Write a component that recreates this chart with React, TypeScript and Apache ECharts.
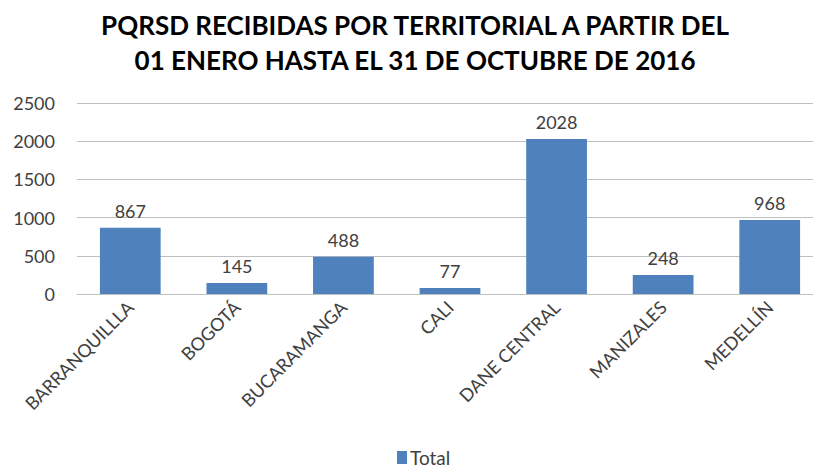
import React, { useEffect, useRef } from "react";
import * as echarts from "echarts";

const titleText = "PQRSD RECIBIDAS POR TERRITORIAL A PARTIR DEL\n01 ENERO HASTA EL 31 DE OCTUBRE DE 2016";
const categories = ["BARRANQUILLLA", "BOGOTÁ", "BUCARAMANGA", "CALI", "DANE CENTRAL", "MANIZALES", "MEDELLÍN"];
const totals = [867, 145, 488, 77, 2028, 248, 968];
const seriesName = "Total";

export default function App() {
  const ref = useRef<HTMLDivElement>(null);
  useEffect(() => {
    if (!ref.current) return;
    const chart = echarts.init(ref.current, null, { renderer: "svg" });
    const font = "Lato, 'Open Sans', sans-serif";
    chart.setOption({
      animation: false,
      backgroundColor: "#ffffff",
      title: {
        text: titleText,
        left: "center",
        top: 2,
        padding: [5, 5, 5, 19],
        textStyle: { fontFamily: font, fontSize: 26, fontWeight: "bold", color: "#000000", lineHeight: 35 },
      },
      legend: {
        bottom: 1,
        left: 397,
        itemWidth: 10,
        itemHeight: 13,
        icon: "rect",
        itemGap: 6,
        padding: 0,
        itemStyle: { color: "#4f81bd" },
        textStyle: { fontFamily: font, fontSize: 19, color: "#404040", padding: [0, 0, 0, -2] },
        data: [seriesName],
      },
      grid: { left: 77, right: 7, top: 103, bottom: 174 },
      xAxis: {
        type: "category",
        data: categories,
        axisTick: { show: false },
        axisLine: { lineStyle: { color: "#bfbfbf" } },
        axisLabel: { rotate: 45, interval: 0, fontFamily: font, fontSize: 18, color: "#404040", margin: 10 },
      },
      yAxis: {
        type: "value",
        min: 0,
        max: 2500,
        interval: 500,
        axisLine: { show: false },
        axisTick: { show: false },
        splitLine: { lineStyle: { color: "#bfbfbf" } },
        axisLabel: {
          fontFamily: font,
          fontSize: 18,
          color: "#404040",
          margin: 22,
          formatter: (v: number) => String(v),
        },
      },
      series: [
        {
          name: seriesName,
          type: "bar",
          data: totals,
          barCategoryGap: "43%",
          itemStyle: { color: "#4f81bd" },
          label: { show: true, position: "top", distance: 8, fontFamily: font, fontSize: 18, color: "#404040" },
        },
      ],
    });
    return () => chart.dispose();
  }, []);
  return (
    <div style={{ width: 813, height: 468, position: "absolute", left: 0, top: 0, overflow: "hidden" }}>
      <div ref={ref} style={{ width: 830, height: 468 }} />
    </div>
  );
}
